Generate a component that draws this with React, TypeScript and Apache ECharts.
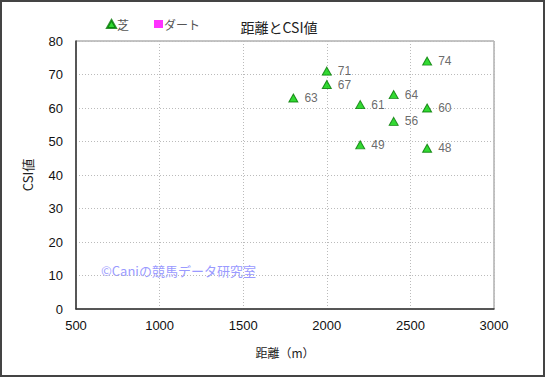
import React, { useEffect, useRef } from "react";
import * as echarts from "echarts";

const turfDistance = [1800, 2000, 2000, 2200, 2200, 2400, 2400, 2600, 2600, 2600];
const turfCSI = [63, 71, 67, 61, 49, 64, 56, 74, 60, 48];
const dirtData: number[][] = [];
const xTicks = [500, 1000, 1500, 2000, 2500, 3000];
const yTicks = [0, 10, 20, 30, 40, 50, 60, 70, 80];

export default function App() {
  const ref = useRef<HTMLDivElement>(null);
  useEffect(() => {
    document.body.style.margin = "0";
    const chart = echarts.init(ref.current!, null, { renderer: "svg" });
    const font = "'Liberation Sans', Arial, sans-serif";
    const jp = "'Noto Sans CJK JP', sans-serif";
    chart.setOption({
      animation: false,
      backgroundColor: "#fff",
      textStyle: { fontFamily: font },
      title: {
        text: "距離とCSI値",
        left: 274,
        top: 15,
        textAlign: "center",
        textStyle: { fontSize: 14, fontWeight: "normal", color: "#222", fontFamily: jp },
      },
      legend: {
        left: 101,
        top: 13,
        itemWidth: 9,
        itemHeight: 8,
        itemGap: 25,
        textStyle: { fontSize: 12, color: "#555", fontFamily: jp, padding: [0, 0, 0, -4] },
        data: [
          { name: "芝", icon: "triangle" },
          { name: "ダート", icon: "rect" },
        ],
      },
      grid: {
        left: 76,
        right: 51,
        top: 41,
        bottom: 68,
        show: true,
        borderColor: "#888",
        borderWidth: 1,
      },
      xAxis: {
        type: "value",
        min: xTicks[0],
        max: xTicks[xTicks.length - 1],
        interval: 500,
        name: "距離（m）",
        nameLocation: "middle",
        nameGap: 37,
        nameTextStyle: { fontSize: 12, color: "#222", fontFamily: jp },
        axisLine: { lineStyle: { color: "#333", width: 1.5 } },
        axisTick: { show: false },
        axisLabel: { fontSize: 13, color: "#111", margin: 10, formatter: (v: number) => String(v) },
        splitLine: { lineStyle: { color: "#bbb", type: [1, 2] } },
      },
      yAxis: {
        type: "value",
        min: yTicks[0],
        max: yTicks[yTicks.length - 1],
        interval: 10,
        name: "CSI値",
        nameLocation: "middle",
        nameGap: 42,
        nameTextStyle: { fontSize: 13, color: "#222", fontFamily: jp },
        axisLine: { show: true, lineStyle: { color: "#333", width: 1.5 } },
        axisTick: { show: false },
        axisLabel: { fontSize: 13, color: "#111", margin: 13 },
        splitLine: { lineStyle: { color: "#bbb", type: [1, 2] } },
      },
      graphic: [
        {
          type: "rect",
          shape: { x: 1, y: 1, width: 543, height: 375 },
          style: { fill: "none", stroke: "#444", lineWidth: 2 },
          silent: true,
        },
        {
          type: "text",
          left: 101,
          top: 264,
          style: {
            text: "©Caniの競馬データ研究室",
            fill: "#9a9aff",
            fontSize: 13,
            fontFamily: jp,
          },
        },
      ],
      series: [
        {
          name: "芝",
          type: "scatter",
          symbol: "triangle",
          symbolSize: [9, 8],
          itemStyle: { color: "#00d000", borderColor: "#007700", borderWidth: 1 },
          label: {
            show: true,
            position: "right",
            distance: 6,
            fontSize: 12,
            color: "#444",
            formatter: (p: any) => String(p.value[1]),
          },
          data: turfDistance.map((d, i) => [d, turfCSI[i]]),
        },
        {
          name: "ダート",
          type: "scatter",
          symbol: "rect",
          itemStyle: { color: "#ff00ff" },
          data: dirtData,
        },
      ],
    });
    return () => chart.dispose();
  }, []);
  return (
    <div
      ref={ref}
      style={{ position: "absolute", left: 0, top: 0, width: 545, height: 377 }}
    />
  );
}
